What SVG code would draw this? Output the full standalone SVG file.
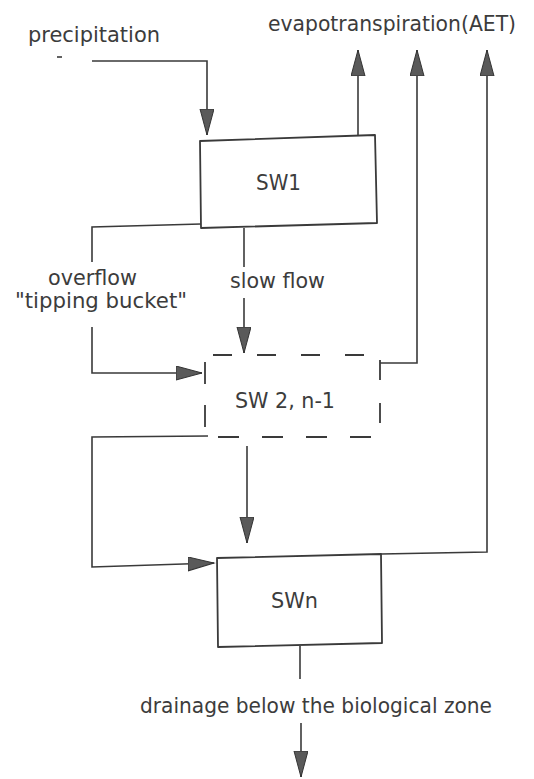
<svg xmlns="http://www.w3.org/2000/svg" width="534" height="779" viewBox="0 0 534 779">
  <style>
    .lbl { font-family: "DejaVu Sans", "Liberation Sans", sans-serif; font-size: 21px; fill: #3c3c3c; }
    .box { fill: none; stroke: #3a3a3a; stroke-width: 1.8; stroke-linejoin: round; }
    .dash { fill: none; stroke: #3a3a3a; stroke-width: 1.8; }
    .conn { fill: none; stroke: #3a3a3a; stroke-width: 1.6; stroke-linejoin: miter; }
  </style>
  <defs>
    <marker id="arrow" markerUnits="userSpaceOnUse" markerWidth="28" markerHeight="16" refX="26" refY="7" orient="auto">
      <path d="M0,0 L26,7 L0,14 Z" fill="#5a5a5a" stroke="#333" stroke-width="1"/>
    </marker>
  </defs>
  <rect width="534" height="779" fill="#ffffff"/>

  <g id="precipitation">
    <text class="lbl" x="28" y="42" textLength="132" lengthAdjust="spacingAndGlyphs">precipitation</text>
    <line x1="57" y1="57" x2="62" y2="57" stroke="#3a3a3a" stroke-width="1.6"/>
  </g>

  <g id="evapotranspiration">
    <text class="lbl" x="268" y="31" textLength="248" lengthAdjust="spacingAndGlyphs">evapotranspiration(AET)</text>
  </g>

  <g id="sw1">
    <polygon class="box" points="200,141 375,135 377,223 201,228"/>
    <text class="lbl" x="256" y="190" textLength="45" lengthAdjust="spacingAndGlyphs">SW1</text>
  </g>

  <g id="sw2">
    <line class="dash" x1="213" y1="355" x2="367" y2="355" stroke-dasharray="19 25"/>
    <line class="dash" x1="218" y1="437" x2="372" y2="437" stroke-dasharray="21 23"/>
    <line class="dash" x1="205" y1="362" x2="205" y2="428" stroke-dasharray="22 21"/>
    <line class="dash" x1="380" y1="360" x2="380" y2="425" stroke-dasharray="20 23"/>
    <text class="lbl" x="235" y="408" textLength="100" lengthAdjust="spacingAndGlyphs">SW 2, n-1</text>
  </g>

  <g id="swn">
    <polygon class="box" points="217,558 381,554 382,643 218,647"/>
    <text class="lbl" x="271" y="608" textLength="47" lengthAdjust="spacingAndGlyphs">SWn</text>
  </g>

  <g id="flow-labels">
    <text class="lbl" x="48" y="285" textLength="89" lengthAdjust="spacingAndGlyphs">overflow</text>
    <text class="lbl" x="15" y="308" textLength="172" lengthAdjust="spacingAndGlyphs">"tipping bucket"</text>
    <text class="lbl" x="230" y="288" textLength="95" lengthAdjust="spacingAndGlyphs">slow flow</text>
    <text class="lbl" x="140" y="713" textLength="352" lengthAdjust="spacingAndGlyphs">drainage below the biological zone</text>
  </g>

  <g id="connectors">
    <path class="conn" d="M92,61 H207 V135" marker-end="url(#arrow)"/>
    <path class="conn" d="M358,136 V50" marker-end="url(#arrow)"/>
    <path class="conn" d="M380,363 H417 V50" marker-end="url(#arrow)"/>
    <path class="conn" d="M381,554 L487,552 V50" marker-end="url(#arrow)"/>
    <path class="conn" d="M201,224 L92,227 V262"/>
    <path class="conn" d="M92,327 V373 H202" marker-end="url(#arrow)"/>
    <path class="conn" d="M244,228 V267"/>
    <path class="conn" d="M244,298 V353" marker-end="url(#arrow)"/>
    <path class="conn" d="M208,436 L92,437 V567 L214,563" marker-end="url(#arrow)"/>
    <path class="conn" d="M247,446 V543" marker-end="url(#arrow)"/>
    <path class="conn" d="M300,646 V679"/>
    <path class="conn" d="M301,723 V777" marker-end="url(#arrow)"/>
  </g>
</svg>
